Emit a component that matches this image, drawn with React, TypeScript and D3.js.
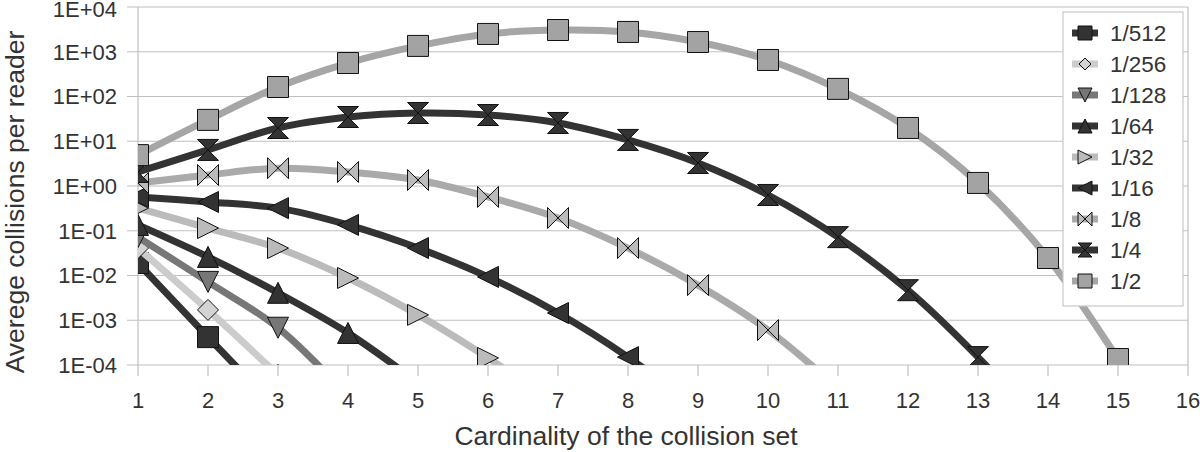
import React, { useEffect, useRef } from 'react'
import * as d3 from 'd3'

// series labels (legend order)
const seriesNames = ['1/512', '1/256', '1/128', '1/64', '1/32', '1/16', '1/8', '1/4', '1/2']

// average collisions per reader, starting at cardinality 1
// (last value of the short series falls below 1E-04 and gets clipped)
const s512 = [0.019, 0.00042, 0.00001]
const s256 = [0.041, 0.0017, 0.00006]
const s128 = [0.072, 0.0072, 0.00068, 0.00002]
const s64 = [0.135, 0.026, 0.0041, 0.00052, 0.00004]
const s32 = [0.32, 0.115, 0.041, 0.0088, 0.00132, 0.000144, 0.000012]
const s16 = [0.57, 0.44, 0.32, 0.135, 0.041, 0.0093, 0.00145, 0.00015, 0.00001]
const s8 = [1.17, 1.76, 2.5, 2.06, 1.36, 0.57, 0.193, 0.041, 0.0061, 0.000605, 0.00003]
const s4 = [2.06, 6.4, 19.8, 34.8, 42.8, 38.6, 25.6, 10.7, 3.27, 0.63, 0.072, 0.0047, 0.00015, 0.000003]
const s2 = [4.9, 30, 163, 560, 1350, 2500, 3060, 2770, 1650, 655, 148, 19.8, 1.17, 0.0246, 0.000136]

const xTicks = d3.range(1, 17)
const yTicks = [1e-4, 1e-3, 1e-2, 1e-1, 1e0, 1e1, 1e2, 1e3, 1e4]
const yTickLabels = ['1E-04', '1E-03', '1E-02', '1E-01', '1E+00', '1E+01', '1E+02', '1E+03', '1E+04']

const seriesData = [s512, s256, s128, s64, s32, s16, s8, s4, s2]

const lineColors = ['#333333', '#cccccc', '#777777', '#333333', '#bbbbbb', '#333333', '#aaaaaa', '#333333', '#a6a6a6']
const fillColors = ['#333333', '#d4d4d4', '#777777', '#333333', '#bbbbbb', '#333333', '#bbbbbb', '#333333', '#a3a3a3']
const shapes = ['square', 'diamond', 'down', 'up', 'right', 'left', 'bowtie', 'hourglass', 'square']

function markerPath(shape: string, r: number) {
  switch (shape) {
    case 'square':
      return `M${-r},${-r}H${r}V${r}H${-r}Z`
    case 'diamond':
      return `M0,${-r}L${r},0L0,${r}L${-r},0Z`
    case 'down':
      return `M${-r},${-r}L${r},${-r}L0,${r}Z`
    case 'up':
      return `M${-r},${r}L${r},${r}L0,${-r}Z`
    case 'right':
      return `M${-r},${-r}L${r},0L${-r},${r}Z`
    case 'left':
      return `M${r},${-r}L${-r},0L${r},${r}Z`
    case 'bowtie':
      return `M${-r},${-r}L${r},${r}L${r},${-r}L${-r},${r}Z`
    case 'hourglass':
      return `M${-r},${-r}L${r},${-r}L${-r},${r}L${r},${r}Z`
  }
  return ''
}

const FONT = '"Liberation Sans", Arial, sans-serif'

export default function App() {
  const ref = useRef<SVGSVGElement>(null)

  useEffect(() => {
    const svg = d3.select(ref.current)
    svg.selectAll('*').remove()

    const width = 1200, height = 452
    const left = 138, right = 1188, top = 7, bottom = 365

    const x = d3.scaleLinear().domain([1, 16]).range([left, right])
    const y = d3.scaleLog().domain([1e-4, 1e4]).range([bottom, top])

    svg.attr('width', width).attr('height', height)
    svg.append('rect').attr('width', width).attr('height', height).attr('fill', '#fff')

    svg.append('defs').append('clipPath').attr('id', 'plot-clip')
      .append('rect')
      .attr('x', left).attr('y', top)
      .attr('width', right - left).attr('height', bottom - top)

    const grid = svg.append('g')
    // horizontal gridlines plus left tick marks
    grid.selectAll('.hg').data(yTicks).enter().append('line')
      .attr('x1', left - 11).attr('x2', right)
      .attr('y1', d => y(d)).attr('y2', d => y(d))
      .attr('stroke', '#c0c0c0').attr('stroke-width', 1.2)
    // x tick marks
    grid.selectAll('.xt').data(xTicks).enter().append('line')
      .attr('x1', d => x(d)).attr('x2', d => x(d))
      .attr('y1', bottom).attr('y2', bottom + 11)
      .attr('stroke', '#c0c0c0').attr('stroke-width', 1.2)
    // frame
    grid.append('line').attr('x1', left).attr('x2', left).attr('y1', top).attr('y2', bottom)
      .attr('stroke', '#c0c0c0').attr('stroke-width', 1.2)
    grid.append('line').attr('x1', right).attr('x2', right).attr('y1', top).attr('y2', bottom)
      .attr('stroke', '#c0c0c0').attr('stroke-width', 1.2)

    // tick labels
    svg.append('g').selectAll('text').data(yTicks).enter().append('text')
      .attr('x', 117).attr('y', d => Math.max(y(d), 9)).attr('dy', '0.36em')
      .attr('text-anchor', 'end')
      .style('font-family', FONT).style('font-size', '22px').attr('fill', '#333')
      .text((d, i) => yTickLabels[i])

    svg.append('g').selectAll('text').data(xTicks).enter().append('text')
      .attr('x', d => x(d)).attr('y', 408)
      .attr('text-anchor', 'middle')
      .style('font-family', FONT).style('font-size', '22px').attr('fill', '#333')
      .text(d => d)

    // axis titles
    svg.append('text')
      .attr('x', 626).attr('y', 445)
      .attr('text-anchor', 'middle')
      .style('font-family', FONT).style('font-size', '26.5px').attr('fill', '#333')
      .text('Cardinality of the collision set')

    svg.append('text')
      .attr('transform', `translate(24,${202}) rotate(-90)`)
      .attr('text-anchor', 'middle')
      .style('font-family', FONT).style('font-size', '26.5px').attr('fill', '#333')
      .text('Averege collisions per reader')

    // series
    const line = d3.line<number>()
      .x((d, i) => x(i + 1))
      .y(d => y(d))
      .curve(d3.curveCatmullRom.alpha(0.5))

    const plot = svg.append('g').attr('clip-path', 'url(#plot-clip)')

    seriesData.forEach((vals, si) => {
      const g = plot.append('g')
      g.append('path')
        .datum(vals)
        .attr('d', line)
        .attr('fill', 'none')
        .attr('stroke', lineColors[si])
        .attr('stroke-width', 7)

      g.selectAll('.m').data(vals).enter().append('path')
        .attr('transform', (d, i) => `translate(${x(i + 1)},${y(d)})`)
        .attr('d', markerPath(shapes[si], 10.5))
        .attr('fill', fillColors[si])
        .attr('stroke', '#111')
        .attr('stroke-width', 1)
    })

    // legend
    const legend = svg.append('g')
    legend.append('rect')
      .attr('x', 1063).attr('y', 12).attr('width', 120).attr('height', 294)
      .attr('fill', '#fff').attr('stroke', '#c8c8c8').attr('stroke-width', 1.2)

    const item = legend.selectAll('.item').data(seriesNames).enter().append('g')
      .attr('transform', (d, i) => `translate(0,${33 + i * 31})`)

    item.append('line')
      .attr('x1', 1072).attr('x2', 1098).attr('y1', 0).attr('y2', 0)
      .attr('stroke', (d, i) => lineColors[i]).attr('stroke-width', 7)

    item.append('path')
      .attr('transform', 'translate(1085,0)')
      .attr('d', (d, i) => markerPath(shapes[i], shapes[i] === 'diamond' ? 6 : 7))
      .attr('fill', (d, i) => fillColors[i])
      .attr('stroke', '#111').attr('stroke-width', 1)

    item.append('text')
      .attr('x', 1110).attr('y', 0).attr('dy', '0.36em')
      .style('font-family', FONT).style('font-size', '22.5px').attr('fill', '#333')
      .text(d => d)
  }, [])

  return (
    <div style={{ position: 'absolute', left: 0, top: 0 }}>
      <svg ref={ref}></svg>
    </div>
  )
}
